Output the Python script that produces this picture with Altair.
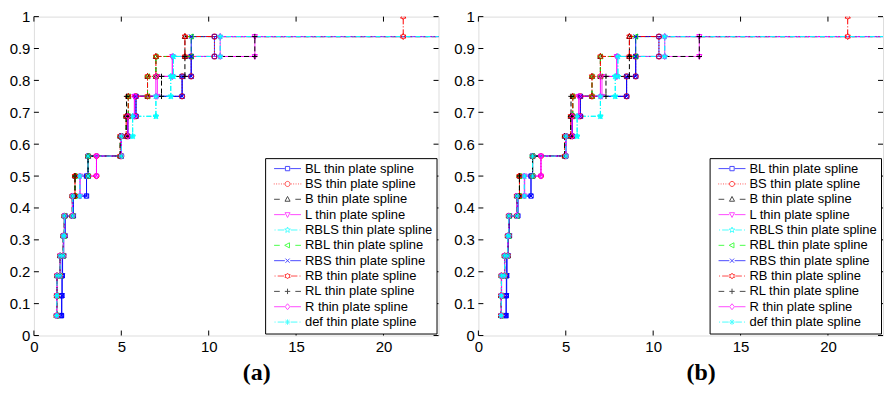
import math
import altair as alt
import pandas as pd

# ---------------- data ----------------
SERIES = [
    "BL thin plate spline", "BS thin plate spline", "B thin plate spline",
    "L thin plate spline", "RBLS thin plate spline", "RBL thin plate spline",
    "RBS thin plate spline", "RB thin plate spline", "RL thin plate spline",
    "R thin plate spline", "def thin plate spline",
]

# sorted sample values of each series (16 samples, ECDF steps of 1/16)
X_BL = [1.55, 1.58, 1.60, 1.62, 1.70, 1.78, 2.26, 3.01, 3.10, 5.00, 5.37, 5.84, 8.48, 9.00, 10.33, 30]
X_BS = [1.30, 1.31, 1.32, 1.50, 1.68, 1.74, 2.20, 2.35, 3.58, 5.00, 5.37, 5.84, 8.48, 9.00, 10.33, 30]
X_B = [1.30, 1.31, 1.32, 1.50, 1.68, 1.74, 2.20, 2.35, 3.10, 4.94, 5.28, 5.40, 6.50, 6.98, 8.64, 30]
X_L = [1.30, 1.31, 1.33, 1.50, 1.70, 1.76, 2.22, 2.65, 3.58, 5.00, 5.37, 5.75, 7.07, 7.92, 12.64, 30]
X_RBLS = [1.30, 1.31, 1.32, 1.50, 1.68, 1.74, 2.20, 2.63, 3.10, 5.00, 5.65, 6.98, 7.83, 7.98, 10.66, 30]
X_RBL = [1.30, 1.31, 1.32, 1.50, 1.68, 1.74, 2.22, 2.35, 3.10, 4.94, 5.28, 5.40, 6.50, 6.98, 9.00, 30]
X_RBS = [1.55, 1.60, 1.62, 1.64, 1.70, 1.78, 2.26, 3.01, 3.10, 5.00, 5.37, 5.84, 8.48, 9.00, 9.00, 30]
X_RB = [1.30, 1.31, 1.32, 1.50, 1.68, 1.74, 2.20, 2.35, 3.10, 4.94, 5.28, 5.40, 6.50, 6.98, 8.64, 21.13]
X_RL = [1.30, 1.31, 1.32, 1.50, 1.68, 1.74, 2.20, 2.35, 3.10, 4.94, 5.28, 5.30, 7.30, 8.64, 12.64, 30]
X_R = [1.30, 1.31, 1.32, 1.50, 1.68, 1.74, 2.20, 2.63, 3.58, 5.00, 5.37, 5.75, 6.98, 7.92, 10.66, 30]
X_DEF = [1.30, 1.31, 1.32, 1.50, 1.68, 1.74, 2.22, 2.63, 3.10, 5.00, 5.65, 6.98, 7.83, 7.98, 10.66, 30]

SAMPLES = [X_BL, X_BS, X_B, X_L, X_RBLS, X_RBL, X_RBS, X_RB, X_RL, X_R, X_DEF]

X_TICKS = [0, 5, 10, 15, 20]
Y_TICKS = [0, 0.1, 0.2, 0.3, 0.4, 0.5, 0.6, 0.7, 0.8, 0.9, 1]
X_MAX = 23.15
PANELS = ["(a)", "(b)"]

# ---------------- styles ----------------
COLORS = ["#0000ff", "#ff0000", "#000000", "#ff00ff", "#00ffff", "#00ff00",
          "#0000ff", "#ff0000", "#000000", "#ff00ff", "#00ffff"]
STYLE = ["solid", "dotted", "dashed", "solid", "dashdot", "dashed",
         "solid", "dashdot", "dashed", "solid", "dashdot"]
DASHES = {"solid": [1, 0], "dotted": [1, 2], "dashed": [5, 3], "dashdot": [5, 2, 1, 2]}


def star(n, ro, ri):
    pts = []
    for i in range(2 * n):
        r = ro if i % 2 == 0 else ri
        a = math.pi * i / n - math.pi / 2
        pts.append(f"{r * math.cos(a):.3f},{r * math.sin(a):.3f}")
    return "M" + "L".join(pts) + "Z"


MARK = {
    "square": "M-0.72,-0.72H0.72V0.72H-0.72Z",
    "circle": "M-0.85,0A0.85,0.85,0,1,0,0.85,0A0.85,0.85,0,1,0,-0.85,0Z",
    "tup": "M0,-0.95L0.85,0.65L-0.85,0.65Z",
    "tdown": "M0,0.95L0.85,-0.65L-0.85,-0.65Z",
    "pent": star(5, 1.0, 0.42),
    "tleft": "M-0.95,0L0.65,-0.85L0.65,0.85Z",
    "x": "M-0.7,-0.7L0.7,0.7M-0.7,0.7L0.7,-0.7",
    "hexa": star(6, 1.0, 0.58),
    "plus": "M-0.9,0H0.9M0,-0.9V0.9",
    "diamond": "M0,-1L0.8,0L0,1L-0.8,0Z",
    "aster": "M-0.9,0H0.9M0,-0.9V0.9M-0.65,-0.65L0.65,0.65M-0.65,0.65L0.65,-0.65",
}
MARKERS = ["square", "circle", "tup", "tdown", "pent", "tleft", "x", "hexa", "plus", "diamond", "aster"]


def segs(pairs):
    out = ""
    for a, b in pairs:
        out += f"M{a:.2f},0H{b:.2f}"
        out += f"M{-b:.2f},0H{-a:.2f}"
    return out


LINEPATH = {
    "solid": segs([(0.9, 4.5)]),
    "dashed": segs([(2.6, 4.5)]),
    "dotted": segs([(1.1 + 0.8 * k, 1.4 + 0.8 * k) for k in range(5)]),
    "dashdot": segs([(1.1, 3.3), (4.0, 4.35)]),
}

MARKER_PATHS = [MARK[m] for m in MARKERS]
LEGEND_PATHS = [LINEPATH[s] + MARK[m] for s, m in zip(STYLE, MARKERS)]
DASH_RANGE = [DASHES[s] for s in STYLE]

# ---------------- tables ----------------
rows = []
for name, xs in zip(SERIES, SAMPLES):
    n = len(xs)
    k = 0
    rows.append({"series": name, "x": xs[0], "y": 1 / n, "idx": k})
    for i in range(1, n):
        k += 1
        rows.append({"series": name, "x": xs[i], "y": i / n, "idx": k})
        k += 1
        rows.append({"series": name, "x": xs[i], "y": (i + 1) / n, "idx": k})
verts = pd.DataFrame(rows)
leg_df = pd.DataFrame({"series": SERIES, "x": [-10] * len(SERIES), "y": [0.5] * len(SERIES)})
xt_df = pd.DataFrame({"x": X_TICKS})
yt_df = pd.DataFrame({"y": Y_TICKS})

W_A, W_B, H = 406, 406, 320
FONT = "Liberation Sans"

color_scale = alt.Scale(domain=SERIES, range=COLORS)
xscale = alt.Scale(domain=[0, X_MAX], nice=False, zero=False)
yscale = alt.Scale(domain=[0, 1], nice=False, zero=False)

LEG = alt.Legend(
    title=None, orient="bottom-right", offset=2, padding=4,
    strokeColor="black", fillColor="white", cornerRadius=0,
    labelFont=FONT, labelFontSize=13, labelColor="black", labelLimit=400,
    symbolSize=36, symbolStrokeWidth=1, symbolOffset=12, labelOffset=11,
    rowPadding=1.4, symbolFillColor="transparent", zindex=1,
)


def panel(title, width):
    xaxis = alt.Axis(
        values=X_TICKS, domain=False, ticks=False, tickSize=0, grid=False,
        labelFlush=False, labelFont=FONT, labelFontSize=15, labelColor="black",
        labelPadding=4, title=title, titleFont="Liberation Serif",
        titleFontWeight="bold", titleFontSize=24, titleColor="black",
        titleX=width / 2 + 20, titleY=44, titleBaseline="alphabetic",
    )
    yaxis = alt.Axis(
        values=Y_TICKS, format=".1~f", domain=False, ticks=False, tickSize=0,
        grid=False, labelFlush=False, labelFont=FONT, labelFontSize=15,
        labelColor="black", labelPadding=4, title=None,
    )
    X = alt.X("x:Q", scale=xscale, axis=xaxis)
    Y = alt.Y("y:Q", scale=yscale, axis=yaxis)

    base = alt.Chart(verts)
    line = base.mark_line(clip=True, strokeWidth=1).encode(
        x=X, y=Y,
        color=alt.Color("series:N", scale=color_scale, legend=None),
        strokeDash=alt.StrokeDash("series:N", scale=alt.Scale(domain=SERIES, range=DASH_RANGE), legend=None),
        order="idx:Q",
    )
    pts = base.mark_point(clip=True, filled=False, size=36, strokeWidth=1, opacity=1).encode(
        x=X, y=Y,
        color=alt.Color("series:N", scale=color_scale, legend=None),
        shape=alt.Shape("series:N", scale=alt.Scale(domain=SERIES, range=MARKER_PATHS), legend=None),
    )
    leg = alt.Chart(leg_df).mark_point(clip=True, filled=False, strokeWidth=1).encode(
        x=X, y=Y,
        color=alt.Color("series:N", scale=color_scale, legend=LEG),
        shape=alt.Shape("series:N", scale=alt.Scale(domain=SERIES, range=LEGEND_PATHS), legend=LEG),
    )
    tick_style = dict(color="black", strokeWidth=1)
    yl = alt.Chart(yt_df).mark_rule(**tick_style).encode(y=Y, x=alt.value(0), x2=alt.value(5))
    yr = alt.Chart(yt_df).mark_rule(**tick_style).encode(y=Y, x=alt.value(width - 5), x2=alt.value(width))
    xb = alt.Chart(xt_df).mark_rule(**tick_style).encode(x=X, y=alt.value(H), y2=alt.value(H - 5))
    xtp = alt.Chart(xt_df).mark_rule(**tick_style).encode(x=X, y=alt.value(0), y2=alt.value(5))

    return alt.layer(yl, yr, xb, xtp, line, pts, leg).resolve_scale(
        color="independent", shape="independent", strokeDash="independent"
    ).properties(width=width, height=H)


chart = alt.hconcat(panel(PANELS[0], W_A), panel(PANELS[1], W_B), spacing=13).resolve_scale(
    color="independent", shape="independent", strokeDash="independent"
).properties(
    padding={"left": 0, "top": 0, "right": 0, "bottom": 0}, background="white"
).configure_view(stroke="black", strokeWidth=1).configure(font=FONT)

chart.save("out.html", embed_options={"renderer": "svg", "actions": False})
